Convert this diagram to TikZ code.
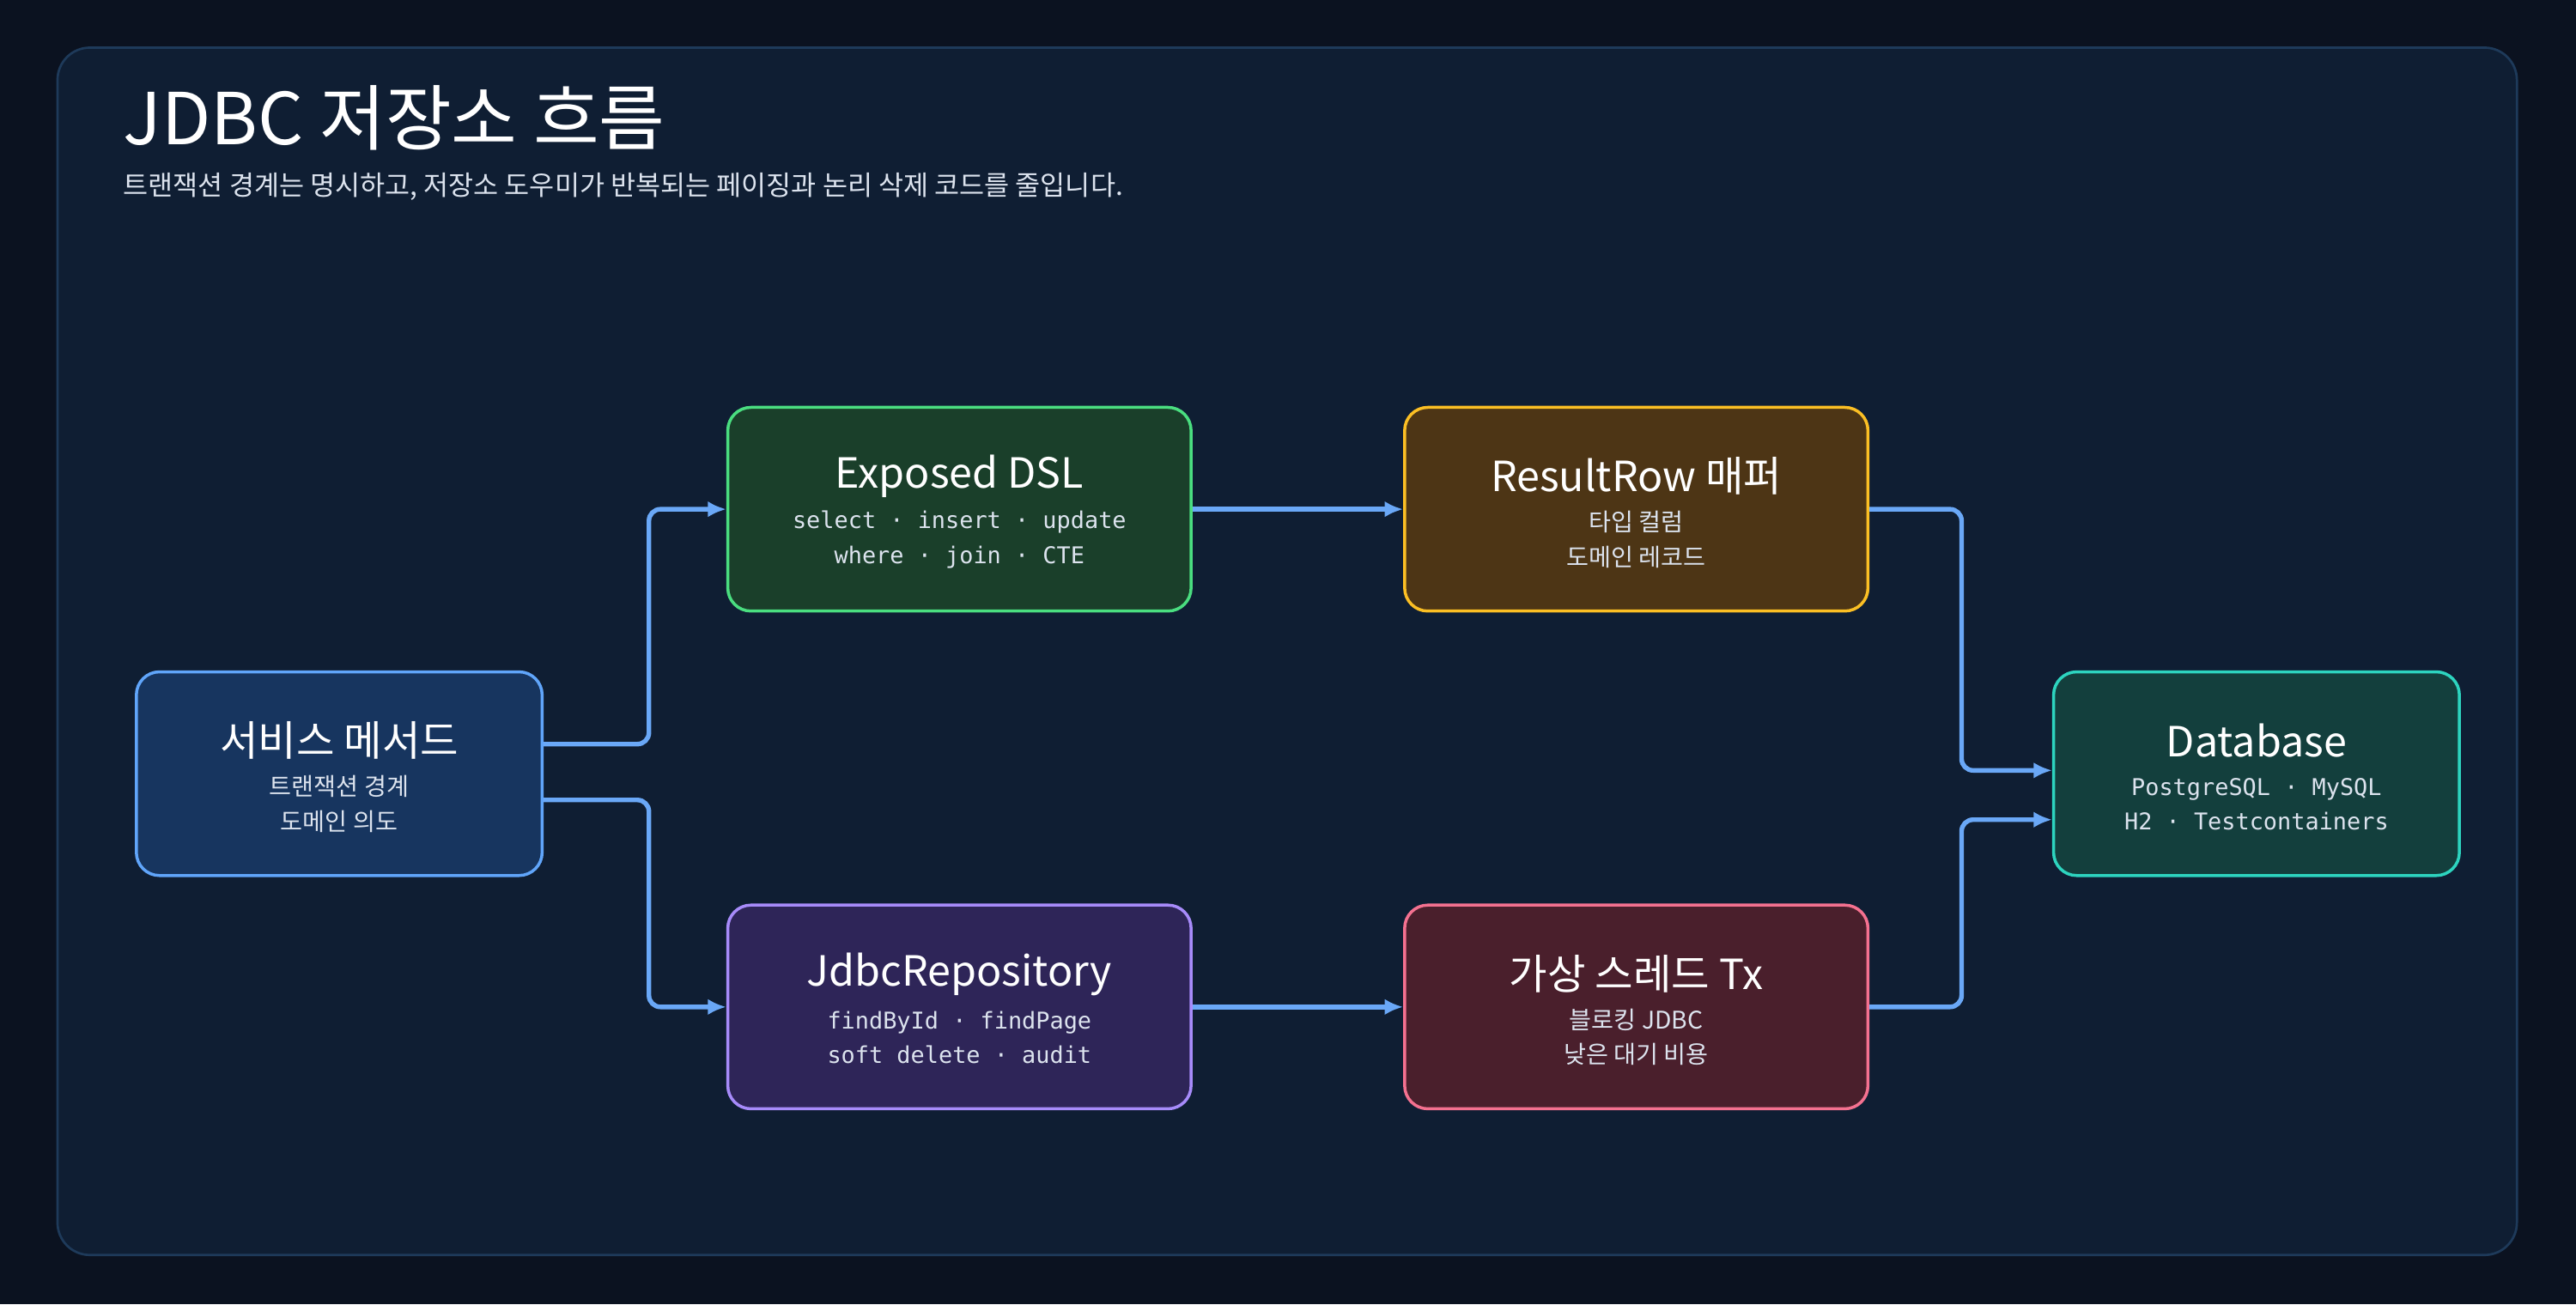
\documentclass[tikz,border=0pt]{standalone}
\usepackage{fontspec}
\setmainfont{Noto Sans CJK KR}
\newfontfamily\monof{DejaVu Sans Mono}
\usetikzlibrary{arrows.meta}
\definecolor{bgc}{HTML}{0B1220}
\definecolor{framec}{HTML}{0F1E33}
\definecolor{frameb}{HTML}{1E3A5A}
\definecolor{arr}{HTML}{6AA8F7}
\definecolor{subt}{HTML}{DCE3EE}
\tikzset{
 box/.style={draw, line width=2.6pt, rounded corners=20pt, minimum height=124*0.05cm},
 ttl/.style={text=white, font=\fontsize{36}{40}\selectfont},
 sub/.style={text=subt, font=\fontsize{20}{30}\selectfont\monof, align=center},
 subk/.style={text=subt, font=\fontsize{21}{30}\selectfont, align=center},
 conn/.style={draw=arr, line width=4pt, rounded corners=10pt, -{Latex[length=16pt,width=14pt]}},
}
\begin{document}
\begin{tikzpicture}[x=0.05cm,y=-0.05cm]
\fill[bgc] (0,0) rectangle (1568,794);
\useasboundingbox (0,0) rectangle (1568,794);
\draw[fill=framec, draw=frameb, line width=2pt, rounded corners=28pt] (35,29) rectangle (1532,764);
\node[anchor=base west, inner sep=0pt, text=white, font=\fontsize{62}{66}\selectfont] (title) at (75,88) {JDBC 저장소 흐름};
\node[anchor=base west, inner sep=0pt, text=subt, font=\fontsize{23.5}{26}\selectfont] (subtitle) at (75,119) {트랜잭션 경계는 명시하고, 저장소 도우미가 반복되는 페이징과 논리 삭제 코드를 줄입니다.};

\newcommand{\mybox}[8]{%
 \node[box, fill=#4, draw=#5, minimum width=#8*0.05cm] (#1) at #2 {};
 \node[ttl] (#1t) at ([yshift=20*0.05cm]#1.center) {#3};
 \node[#7] (#1s) at ([yshift=-18.5*0.05cm]#1.center) {#6};
}
\definecolor{af}{HTML}{17355F}\definecolor{ad}{HTML}{60A5FA}
\definecolor{bf}{HTML}{1A3F2A}\definecolor{bd}{HTML}{4ADE80}
\definecolor{cf}{HTML}{4D3515}\definecolor{cd}{HTML}{FBBF24}
\definecolor{df}{HTML}{2E2558}\definecolor{dd}{HTML}{A78BFA}
\definecolor{ef}{HTML}{4A1F2C}\definecolor{ed}{HTML}{F47190}
\definecolor{ff}{HTML}{133F3D}\definecolor{fd}{HTML}{2DD4BF}
\mybox{A}{(206.5,471)}{서비스 메서드}{af}{ad}{트랜잭션 경계\\도메인 의도}{subk}{247}
\mybox{B}{(584,310)}{Exposed DSL}{bf}{bd}{select · insert · update\\where · join · CTE}{sub}{282}
\mybox{C}{(996,310)}{ResultRow 매퍼}{cf}{cd}{타입 컬럼\\도메인 레코드}{subk}{282}
\mybox{D}{(584,613)}{JdbcRepository}{df}{dd}{findById · findPage\\soft delete · audit}{sub}{282}
\mybox{E}{(996,613)}{가상 스레드 Tx}{ef}{ed}{블로킹 JDBC\\낮은 대기 비용}{subk}{282}
\mybox{F}{(1373.5,471)}{Database}{ff}{fd}{PostgreSQL · MySQL\\H2 · Testcontainers}{sub}{247}

\draw[conn] ([yshift=18*0.05cm]A.east) -| (395,380) |- (B.west);
\draw[conn] ([yshift=-16*0.05cm]A.east) -| (395,550) |- (D.west);
\draw[conn] (B.east) -- (C.west);
\draw[conn] (D.east) -- (E.west);
\draw[conn] (C.east) -| (1194,400) |- ([yshift=2*0.05cm]F.west);
\draw[conn] (E.east) -| (1194,550) |- ([yshift=-28*0.05cm]F.west);
\end{tikzpicture}
\end{document}
